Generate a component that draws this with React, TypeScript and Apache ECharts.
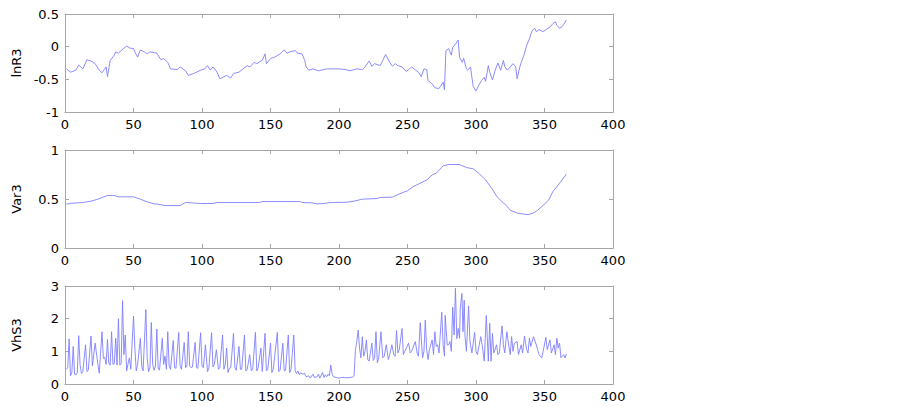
import React, { useEffect, useRef } from "react";
import * as echarts from "echarts";

// ---- data ----
const X_TICKS_MIN = 0;
const X_TICKS_MAX = 400;
const X_INTERVAL = 50;

const LNR3: [number, number][] = [
  [1,-0.34],[4,-0.39],[8,-0.36],[10,-0.28],[13,-0.34],[16,-0.20],[19,-0.22],[22,-0.26],[25,-0.36],[27,-0.40],
  [30,-0.31],[31,-0.46],[33,-0.21],[36,-0.13],[37,-0.08],[39,-0.10],[41,-0.06],[45,0.01],[47,-0.02],[50,-0.03],
  [51,-0.08],[53,-0.16],[55,-0.05],[58,-0.08],[60,-0.11],[62,-0.08],[65,-0.09],[67,-0.10],[70,-0.20],[72,-0.18],
  [75,-0.24],[77,-0.34],[82,-0.35],[84,-0.31],[88,-0.37],[90,-0.44],[94,-0.41],[99,-0.36],[102,-0.34],[104,-0.29],
  [106,-0.36],[108,-0.31],[111,-0.39],[113,-0.49],[116,-0.46],[118,-0.44],[121,-0.48],[123,-0.41],[127,-0.39],[130,-0.34],
  [133,-0.29],[135,-0.31],[138,-0.24],[140,-0.26],[144,-0.21],[146,-0.11],[147,-0.26],[150,-0.18],[153,-0.16],[157,-0.11],
  [160,-0.05],[162,-0.10],[164,-0.08],[168,-0.06],[170,-0.10],[173,-0.11],[175,-0.21],[176,-0.31],[178,-0.36],[181,-0.34],
  [185,-0.37],[187,-0.36],[191,-0.34],[194,-0.34],[200,-0.34],[205,-0.35],[208,-0.37],[213,-0.34],[217,-0.35],[219,-0.31],
  [222,-0.22],[224,-0.30],[226,-0.26],[230,-0.29],[232,-0.21],[234,-0.12],[237,-0.24],[239,-0.30],[241,-0.26],[243,-0.29],
  [246,-0.31],[249,-0.38],[251,-0.35],[253,-0.31],[256,-0.36],[258,-0.39],[260,-0.46],[262,-0.34],[264,-0.35],[265,-0.52],
  [268,-0.57],[270,-0.63],[273,-0.64],[274,-0.61],[276,-0.54],[277,-0.66],[278,-0.06],[280,-0.03],[282,-0.13],[283,-0.01],
  [285,0.04],[287,0.10],[288,-0.16],[290,-0.24],[291,-0.18],[293,-0.34],[294,-0.36],[296,-0.31],[297,-0.47],[298,-0.61],
  [300,-0.68],[302,-0.59],[304,-0.52],[306,-0.47],[307,-0.53],[309,-0.29],[310,-0.39],[312,-0.51],[314,-0.36],[316,-0.25],
  [318,-0.36],[320,-0.21],[321,-0.31],[323,-0.36],[325,-0.31],[327,-0.26],[329,-0.31],[330,-0.49],[332,-0.31],[333,-0.24],
  [335,-0.13],[337,0.02],[339,0.12],[341,0.25],[343,0.28],[344,0.23],[346,0.26],[349,0.23],[351,0.26],[354,0.30],
  [356,0.35],[358,0.38],[359,0.33],[361,0.28],[363,0.31],[364,0.34],[366,0.41],
];

const VAR3: [number, number][] = [
  [1,0.447],[5,0.457],[13,0.464],[19,0.478],[24,0.498],[28,0.52],[31,0.536],[36,0.536],[39,0.522],[50,0.522],
  [55,0.498],[60,0.471],[65,0.45],[68,0.447],[73,0.433],[84,0.433],[88,0.464],[93,0.46],[99,0.454],[108,0.454],
  [111,0.464],[142,0.464],[144,0.474],[172,0.474],[173,0.464],[181,0.46],[184,0.45],[189,0.454],[194,0.464],[206,0.467],
  [211,0.478],[217,0.498],[228,0.505],[230,0.515],[239,0.519],[243,0.546],[250,0.584],[254,0.625],[264,0.694],[268,0.746],
  [271,0.763],[276,0.838],[280,0.852],[288,0.852],[293,0.821],[298,0.808],[302,0.763],[307,0.694],[311,0.619],[315,0.53],
  [319,0.471],[322,0.436],[325,0.385],[330,0.357],[333,0.35],[338,0.34],[342,0.357],[345,0.385],[349,0.436],[353,0.488],
  [356,0.574],[360,0.643],[366,0.753],
];

const VHS3: [number, number][] = [
  [1,0.45],[2,0.5],[3,1.38],[4,0.25],[5,0.35],[6,1.15],[7,0.3],[8,0.28],[9,0.35],[10,1.48],[11,0.6],[12,0.32],[13,0.38],
  [15,1.2],[16,0.38],[17,0.42],[19,1.47],[20,0.55],[22,1.25],[24,0.6],[25,0.33],[27,1.6],[28,0.78],[29,0.82],[30,0.6],
  [31,1.36],[32,0.62],[33,0.58],[34,1.6],[35,0.6],[36,0.62],[37,1.4],[38,0.58],[39,2.0],[40,0.58],[41,0.62],[42,2.55],
  [43,0.9],[44,1.5],[45,0.4],[46,0.62],[47,0.8],[48,0.45],[50,2.08],[51,1.1],[52,0.4],[53,0.6],[55,1.4],[56,0.55],
  [57,0.4],[59,2.28],[60,0.8],[61,0.38],[62,0.5],[63,1.88],[64,0.6],[65,0.42],[66,0.55],[67,1.68],[68,0.5],[69,0.42],
  [71,1.4],[72,0.6],[73,0.85],[74,0.45],[75,1.6],[76,0.55],[77,0.45],[79,1.33],[80,0.5],[81,0.48],[83,1.58],[84,0.55],
  [85,0.45],[87,1.27],[88,0.5],[89,0.55],[90,1.6],[91,0.55],[92,0.5],[93,0.52],[95,1.27],[96,0.5],[97,0.48],[99,1.57],
  [100,0.55],[101,0.5],[102.5,1.2],[104,0.38],[105,0.48],[107,1.57],[108,0.52],[109,0.6],[110.5,1.05],[112,0.45],[113,0.5],
  [115,1.5],[116,0.45],[117,0.6],[118,1.1],[119,0.35],[120,0.48],[121,0.5],[123,1.55],[124,0.5],[125,0.42],[127,1.15],
  [128,0.45],[129,0.45],[131,1.5],[132,0.4],[133,0.45],[134.8,0.9],[136,0.4],[137,0.45],[139,1.58],[140,0.4],[141,0.5],
  [143,1.1],[144,0.38],[146,1.55],[147,0.4],[148,0.45],[150,1.25],[151,0.35],[152,0.45],[155,1.58],[156,0.38],[157,0.42],
  [159,1.25],[160,0.4],[161,0.42],[163,1.5],[164,0.35],[165,0.45],[167,1.5],[168,0.4],[169,0.32],[170,0.4],[171,0.28],
  [172,0.35],[173,0.3],[175,0.32],[176,0.22],[178,0.25],[179,0.18],[181,0.3],[182,0.2],[184,0.22],[185,0.3],[186,0.18],
  [188,0.35],[189,0.2],[190,0.28],[191,0.22],[192,0.3],[193,0.25],[194,0.58],[195,0.3],[196,0.22],[198,0.2],[200,0.18],
  [202,0.2],[205,0.19],[208,0.2],[210,0.21],[211,0.25],[212,1.05],[213,1.3],[214,1.65],[215,1.1],[216,0.8],[217,1.45],
  [218,0.85],[219,1.0],[220,1.35],[221,0.75],[222,0.7],[224,1.25],[225,0.72],[226,0.8],[227,1.6],[228,0.65],[229,0.8],
  [230.6,1.6],[232,0.8],[233,0.85],[234.5,1.2],[236,0.75],[237,0.9],[238.6,1.2],[240,0.9],[241,0.85],[242,1.64],[243,0.95],
  [244,1.05],[246,1.7],[247,0.9],[248,1.0],[250.8,1.25],[252,0.95],[253,1.0],[255.7,1.3],[257,0.95],[258,0.85],[259.3,1.88],
  [261,0.8],[262,1.0],[263,1.96],[264,1.05],[265,0.75],[266,1.05],[268,1.35],[269,0.9],[270,1.6],[271,1.15],[272,1.2],
  [273,0.95],[275,2.2],[276,1.2],[277,0.85],[277.5,2.1],[279,1.19],[280,1.2],[281,1.3],[282,1.0],[283,2.35],[284,1.5],
  [285,2.93],[286,1.39],[287,1.7],[288,1.4],[288.5,2.3],[289.7,2.77],[290.5,1.6],[291.4,2.56],[292,1.45],[293,1.0],
  [294.6,2.39],[295.5,1.35],[296,1.2],[297,0.95],[299,1.58],[300,1.0],[301,0.9],[303.5,1.45],[305,1.05],[306,0.7],
  [307.5,2.1],[309,0.7],[310,1.86],[311,0.7],[312,1.55],[313,0.95],[315,1.2],[316,0.9],[317,0.95],[319,1.78],[320,1.2],
  [321,0.95],[322.5,1.6],[324,1.15],[325,0.9],[326,1.45],[327,1.0],[328,1.25],[330,1.3],[331,0.9],[333,1.2],[334,0.95],
  [335.4,1.47],[337,1.05],[338,0.95],[339,1.4],[340,1.15],[342,1.45],[344,1.2],[345,1.05],[346,0.9],[348,0.8],[349,1.0],
  [351,1.43],[352,1.05],[354,1.35],[355,0.95],[357,1.2],[358,0.9],[359,1.4],[360,1.1],[361,1.25],[362,0.8],[363,0.85],
  [364,0.9],[365,0.8],[366,0.92],
];

const PANELS = [
  { name: "lnR3", data: LNR3, min: -1, max: 0.5, interval: 0.5 },
  { name: "Var3", data: VAR3, min: 0, max: 1, interval: 0.5 },
  { name: "VhS3", data: VHS3, min: 0, max: 3, interval: 1 },
];

const GRID_TOPS = [14, 150, 286];
const GRID_H = 98;
const AXIS_COLOR = "#a6a6a6";
const LINE_COLOR = "#7f7fff";
const FONT = "DejaVu Sans";

export default function App() {
  const ref = useRef<HTMLDivElement>(null);
  useEffect(() => {
    if (!ref.current) return;
    const chart = echarts.init(ref.current, null, { renderer: "svg" });
    const grids: any[] = [];
    const xAxes: any[] = [];
    const yAxes: any[] = [];
    const series: any[] = [];
    const labelStyle = { color: "#000", fontFamily: FONT, fontSize: 13 };
    PANELS.forEach((p, i) => {
      grids.push({ left: 65, width: 548, top: GRID_TOPS[i], height: GRID_H, show: false });
      const xBase = {
        type: "value",
        gridIndex: i,
        min: X_TICKS_MIN,
        max: X_TICKS_MAX,
        interval: X_INTERVAL,
        splitLine: { show: false },
        axisLine: { show: true, onZero: false, lineStyle: { color: AXIS_COLOR, width: 1 } },
        axisTick: { show: true, inside: true, length: 4, lineStyle: { color: AXIS_COLOR } },
      };
      xAxes.push({ ...xBase, position: "bottom", axisLabel: { ...labelStyle, margin: 6 } });
      xAxes.push({ ...xBase, position: "top", axisLabel: { show: false } });
      const yBase = {
        type: "value",
        gridIndex: i,
        min: p.min,
        max: p.max,
        interval: p.interval,
        splitLine: { show: false },
        axisLine: { show: true, onZero: false, lineStyle: { color: AXIS_COLOR, width: 1 } },
        axisTick: { show: true, inside: true, length: 4, lineStyle: { color: AXIS_COLOR } },
      };
      yAxes.push({
        ...yBase,
        position: "left",
        axisLabel: { ...labelStyle, margin: 6 },
        name: p.name,
        nameLocation: "middle",
        nameGap: 42,
        nameTextStyle: { color: "#000", fontFamily: FONT, fontSize: 13 },
      });
      yAxes.push({ ...yBase, position: "right", axisLabel: { show: false } });
      series.push({
        type: "line",
        xAxisIndex: i * 2,
        yAxisIndex: i * 2,
        data: p.data,
        showSymbol: false,
        symbol: "none",
        lineStyle: { color: LINE_COLOR, width: 0.9 },
      });
    });
    chart.setOption({
      animation: false,
      backgroundColor: "#fff",
      grid: grids,
      xAxis: xAxes,
      yAxis: yAxes,
      series,
    });
    return () => chart.dispose();
  }, []);
  return <div ref={ref} style={{ width: 900, height: 407, position: "absolute", left: 0, top: 0 }} />;
}
